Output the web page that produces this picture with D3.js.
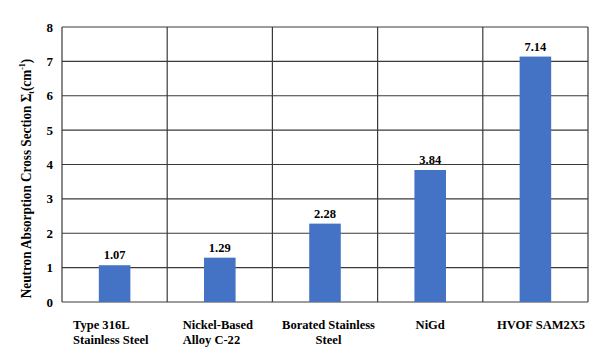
<!DOCTYPE html>
<html>
<head>
<meta charset="utf-8">
<script src="https://cdn.jsdelivr.net/npm/d3@7.9.0/dist/d3.min.js"></script>
<style>
  body { margin: 0; background: #fff; }
  text { font-family: "Liberation Serif", "Times New Roman", serif; font-weight: bold; fill: #000; }
</style>
</head>
<body>
<svg id="chart" width="600" height="362"></svg>
<script>
const categories = ['Type 316L|Stainless Steel', 'Nickel-Based|Alloy C-22', 'Borated Stainless|Steel', 'NiGd', 'HVOF SAM2X5'];
const values = [1.07, 1.29, 2.28, 3.84, 7.14];
const yTicks = [0, 1, 2, 3, 4, 5, 6, 7, 8];

const svg = d3.select('#chart');
const margin = { top: 27, right: 12, bottom: 60, left: 62 };
const width = 600 - margin.left - margin.right;
const height = 362 - margin.top - margin.bottom;

const g = svg.append('g').attr('transform', `translate(${margin.left},${margin.top})`);

const x = d3.scaleBand().domain(categories).range([0, width]).padding(0);
const y = d3.scaleLinear().domain([0, 8]).range([height, 0]);

// horizontal grid
g.selectAll('.hgrid')
  .data(yTicks)
  .join('line')
  .attr('x1', 0).attr('x2', width)
  .attr('y1', (d) => y(d)).attr('y2', (d) => y(d))
  .attr('stroke', '#3a3a3a').attr('stroke-width', 1.2);

// vertical separators
g.selectAll('.vgrid')
  .data(categories.concat(['end']))
  .join('line')
  .attr('x1', (d, i) => i * x.bandwidth()).attr('x2', (d, i) => i * x.bandwidth())
  .attr('y1', 0).attr('y2', height)
  .attr('stroke', '#3a3a3a').attr('stroke-width', 1.2);

const barW = x.bandwidth() * 0.3;

g.selectAll('.bar')
  .data(values)
  .join('rect')
  .attr('x', (d, i) => x(categories[i]) + x.bandwidth() / 2 - barW / 2)
  .attr('y', (d) => y(d))
  .attr('width', barW)
  .attr('height', (d) => height - y(d))
  .attr('fill', '#4472c4');

g.selectAll('.val')
  .data(values)
  .join('text')
  .attr('x', (d, i) => x(categories[i]) + x.bandwidth() / 2)
  .attr('y', (d) => y(d) - 6)
  .attr('text-anchor', 'middle')
  .attr('font-size', 12.5)
  .text((d) => d.toFixed(2));

// y tick labels
g.selectAll('.ytick')
  .data(yTicks)
  .join('text')
  .attr('x', -9)
  .attr('y', (d) => y(d) + 4.5)
  .attr('text-anchor', 'end')
  .attr('font-size', 13)
  .text((d) => d);

// category labels (slightly condensed like the original)
const labelAlign = ['start', 'start', 'middle', 'middle', 'middle'];
const labelShift = [11, 15.5, 3.5, 0, 5.7];
categories.forEach((c, i) => {
  const anchor = labelAlign[i];
  const xPos = anchor === 'start' ? x(c) + labelShift[i] : x(c) + x.bandwidth() / 2 + labelShift[i];
  const t = g.append('g')
    .attr('transform', `translate(${xPos},${height + 26.5}) scale(0.93,1)`)
    .append('text')
    .attr('text-anchor', anchor)
    .attr('font-size', 13.5);
  c.split('|').forEach((line, k) => {
    t.append('tspan').attr('x', 0).attr('dy', k === 0 ? 0 : 15.5).text(line);
  });
});

// y axis title
const title = svg.append('text')
  .attr('transform', `translate(31,${margin.top + height / 2 + 14}) rotate(-90) scale(0.88,1)`)
  .attr('text-anchor', 'middle')
  .attr('font-size', 15);
title.append('tspan').text('Neutron Absorption Cross  Section Σ');
title.append('tspan').attr('font-size', 9).attr('dy', 3).text('t');
title.append('tspan').attr('dy', -3).text('(cm');
title.append('tspan').attr('font-size', 9).attr('dy', -6).text('-1');
title.append('tspan').attr('dy', 6).text(')');
</script>
</body>
</html>
